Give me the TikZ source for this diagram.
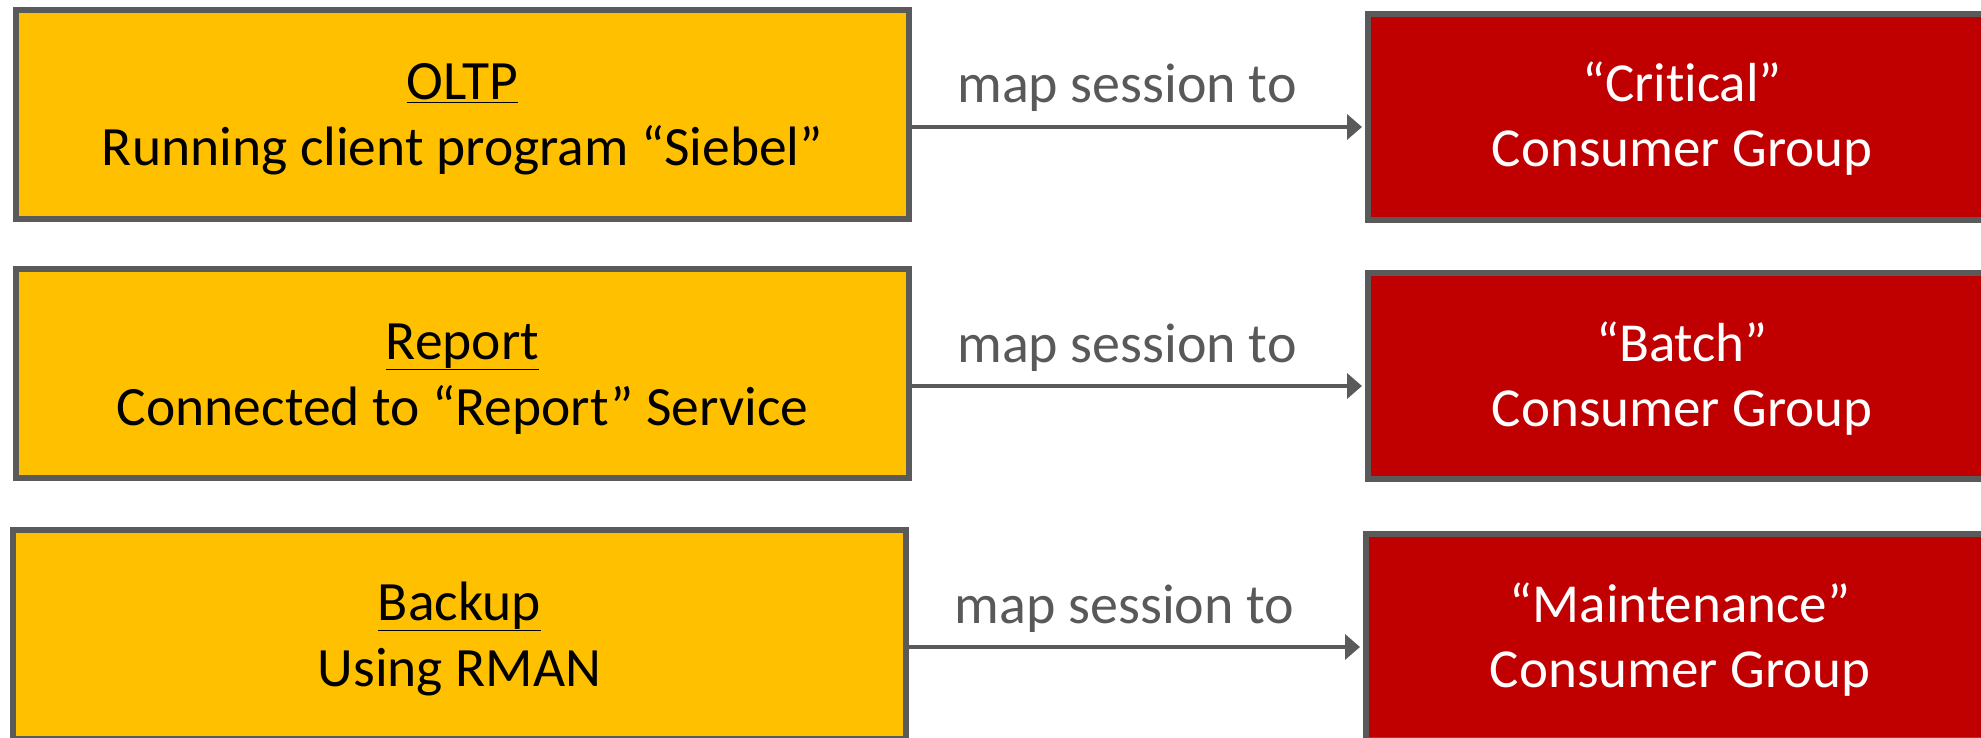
\documentclass[tikz,border=0pt]{standalone}
\usepackage{fontspec}
\setmainfont{Carlito}[Ligatures=NoCommon]
\usetikzlibrary{arrows.meta}
\definecolor{boxyellow}{HTML}{FFC000}
\definecolor{boxred}{HTML}{C00000}
\definecolor{edgegray}{HTML}{5A5A5A}
\definecolor{labelgray}{HTML}{595959}
\tikzset{
  srcbox/.style={draw=edgegray, line width=6pt, fill=boxyellow, inner sep=0pt,
    minimum width=893pt, minimum height=209pt, align=center,
    text height=110pt, text depth=7pt,
    font=\fontsize{55.5}{66}\selectfont, text=black},
  grpbox/.style={draw=edgegray, line width=6pt, fill=boxred, inner sep=0pt,
    minimum width=628pt, minimum height=206pt, align=center,
    text height=108pt, text depth=8pt,
    font=\fontsize{55}{65}\selectfont, text=white},
  maparrow/.style={draw=edgegray, line width=4pt, shorten >=3pt,
    -{Triangle[length=15pt,width=25pt]}},
  maplabel/.style={font=\fontsize{56}{66}\selectfont, text=labelgray, anchor=base,
    inner sep=0pt, xshift=-11.5pt, yshift=24pt}
}
\begin{document}
\begin{tikzpicture}[x=1pt,y=-1pt]
\useasboundingbox (0,0) rectangle (1981,738);
\clip (0,0) rectangle (1981,738);
\node[srcbox] (L1) at (462.5,114.5) {\underline{OLTP}\\Running client program “Siebel”};
\node[srcbox] (L2) at (462.5,373.5) {\underline{Report}\\Connected to “Report” Service};
\node[srcbox] (L3) at (459.5,634.5) {\underline{Backup}\\Using RMAN};
\node[grpbox] (R1) at (1682,117) {“Critical”\\Consumer Group};
\node[grpbox] (R2) at (1682,376) {“Batch”\\Consumer Group};
\node[grpbox] (R3) at (1680,637) {“Maintenance”\\Consumer Group};
\draw[maparrow] ([yshift=-12.5pt]L1.east) -- ([yshift=-12.5pt]L1.east -| R1.west)
  node[maplabel, midway] (M1) {map session to};
\draw[maparrow] ([yshift=-12.5pt]L2.east) -- ([yshift=-12.5pt]L2.east -| R2.west)
  node[maplabel, midway] (M2) {map session to};
\draw[maparrow] ([yshift=-12.5pt]L3.east) -- ([yshift=-12.5pt]L3.east -| R3.west)
  node[maplabel, midway] (M3) {map session to};
\end{tikzpicture}
\end{document}
